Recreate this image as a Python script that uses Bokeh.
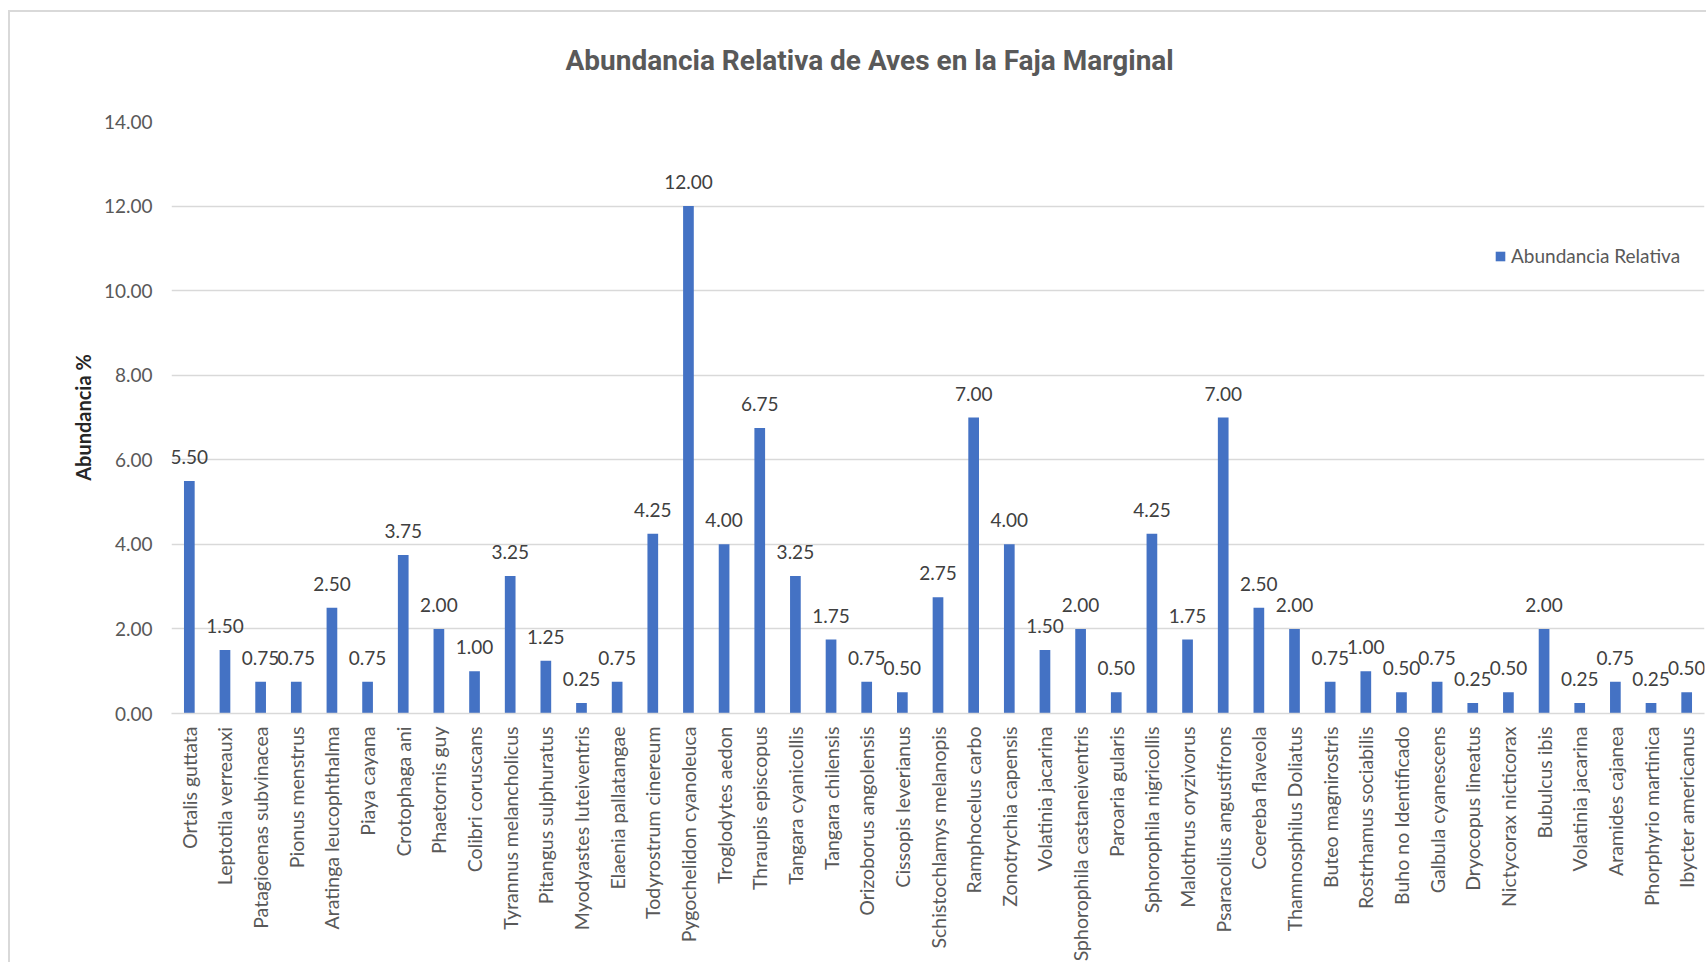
import math
from bokeh.plotting import figure
from bokeh.models import (ColumnDataSource, Range1d, FixedTicker, NumeralTickFormatter,
                          LabelSet, Title)
from bokeh.core.properties import value
from bokeh.embed import file_html
from bokeh.resources import INLINE

species = [
    "Ortalis guttata", "Leptotila verreauxi", "Patagioenas subvinacea", "Pionus menstrus",
    "Aratinga leucophthalma", "Piaya cayana", "Crotophaga ani", "Phaetornis guy",
    "Colibri coruscans", "Tyrannus melancholicus", "Pitangus sulphuratus",
    "Myodyastes luteiventris", "Elaenia pallatangae", "Todyrostrum cinereum",
    "Pygochelidon cyanoleuca", "Troglodytes aedon", "Thraupis episcopus",
    "Tangara cyanicollis", "Tangara chilensis", "Orizoborus angolensis",
    "Cissopis leverianus", "Schistochlamys melanopis", "Ramphocelus carbo",
    "Zonotrychia capensis", "Volatinia jacarina", "Sphorophila castaneiventris",
    "Paroaria gularis", "Sphorophila nigricollis", "Malothrus oryzivorus",
    "Psaracolius angustifrons", "Coereba flaveola", "Thamnosphilus Doliatus",
    "Buteo magnirostris", "Rostrhamus sociabilis", "Buho no Identificado",
    "Galbula cyanescens", "Dryocopus lineatus", "Nictycorax nicticorax",
    "Bubulcus ibis", "Volatinia jacarina", "Aramides cajanea",
    "Phorphyrio martinica", "Ibycter americanus",
]
abundancia = [
    5.50, 1.50, 0.75, 0.75, 2.50, 0.75, 3.75, 2.00, 1.00, 3.25, 1.25, 0.25, 0.75,
    4.25, 12.00, 4.00, 6.75, 3.25, 1.75, 0.75, 0.50, 2.75, 7.00, 4.00, 1.50, 2.00,
    0.50, 4.25, 1.75, 7.00, 2.50, 2.00, 0.75, 1.00, 0.50, 0.75, 0.25, 0.50, 2.00,
    0.25, 0.75, 0.25, 0.50,
]
y_ticks = [0, 2, 4, 6, 8, 10, 12, 14]
title_text = "Abundancia Relativa de Aves en la Faja Marginal"
y_label = "Abundancia %"
series_name = "Abundancia Relativa"

FONT = "Lato"
TITLE_FONT = "Roboto"

W, H = 1698, 952
B_LEFT, B_RIGHT, B_TOP, B_BOTTOM = 161, 4, 109, 248

xs = list(range(len(species)))
src = ColumnDataSource(dict(x=xs, y=abundancia, lbl=["%.2f" % v for v in abundancia]))

x_lo, x_hi = -0.5, len(species) - 0.5
y_lo, y_hi = 0, 14

p = figure(width=W, height=H, output_backend="svg", toolbar_location=None,
           x_range=Range1d(x_lo, x_hi), y_range=Range1d(y_lo, y_hi),
           min_border_left=B_LEFT, min_border_right=B_RIGHT, min_border_top=B_TOP,
           min_border_bottom=B_BOTTOM)
p.styles = {"margin-left": "8px", "margin-top": "10px",
            "border-left": "2px solid #d9d9d9", "border-top": "2px solid #d9d9d9"}
p.outline_line_color = None
p.background_fill_color = "white"
p.border_fill_color = "white"

p.vbar(x="x", top="y", width=0.3, source=src, fill_color="#4472c4",
       line_color=None, legend_label=series_name)

labels = LabelSet(x="x", y="y", text="lbl", source=src, text_align="center",
                  text_baseline="alphabetic", y_offset=17, text_font=value(FONT),
                  text_font_size="19px", text_color="#404040")
p.add_layout(labels)

# axes
p.xaxis.ticker = FixedTicker(ticks=xs)
p.xaxis.major_label_overrides = {i: s for i, s in enumerate(species)}
p.xaxis.major_label_orientation = math.pi / 2
p.xaxis.major_label_text_font = FONT
p.xaxis.major_label_text_font_size = "19.5px"
p.xaxis.major_label_text_color = "#595959"
p.xaxis.major_label_standoff = 7
p.xaxis.major_tick_line_color = None
p.xaxis.minor_tick_line_color = None
p.xaxis.axis_line_color = "#d9d9d9"
p.xaxis.axis_line_width = 1.5

p.yaxis.ticker = FixedTicker(ticks=y_ticks)
p.yaxis.formatter = NumeralTickFormatter(format="0.00")
p.yaxis.major_label_text_font = FONT
p.yaxis.major_label_text_font_size = "19px"
p.yaxis.major_label_text_color = "#595959"
p.yaxis.major_label_standoff = 13
p.yaxis.major_tick_line_color = None
p.yaxis.minor_tick_line_color = None
p.yaxis.axis_line_color = None
p.yaxis.axis_label = y_label
p.yaxis.axis_label_text_font = FONT
p.yaxis.axis_label_text_font_style = "bold"
p.yaxis.axis_label_text_font_size = "20px"
p.yaxis.axis_label_text_color = "#262626"
p.yaxis.axis_label_standoff = 6

p.xgrid.grid_line_color = None
p.ygrid.grid_line_color = "#d9d9d9"
p.ygrid.grid_line_width = 1.5

# title (a trailing empty line lifts it higher above the plot area)
p.title = Title(text=title_text + "\n", align="left", offset=394, standoff=24,
                text_font=TITLE_FONT, text_font_size="28px", text_font_style="bold",
                text_color="#595959")

# legend
lg = p.legend[0]
lg.location = (1323, 446)
lg.background_fill_alpha = 0
lg.border_line_color = None
lg.padding = 0
lg.margin = 0
lg.spacing = 0
lg.glyph_width = 12
lg.glyph_height = 12
lg.label_standoff = 5
lg.label_text_font = FONT
lg.label_text_font_size = "19px"
lg.label_text_color = "#595959"

open("out.html", "w").write(file_html(p, INLINE))
